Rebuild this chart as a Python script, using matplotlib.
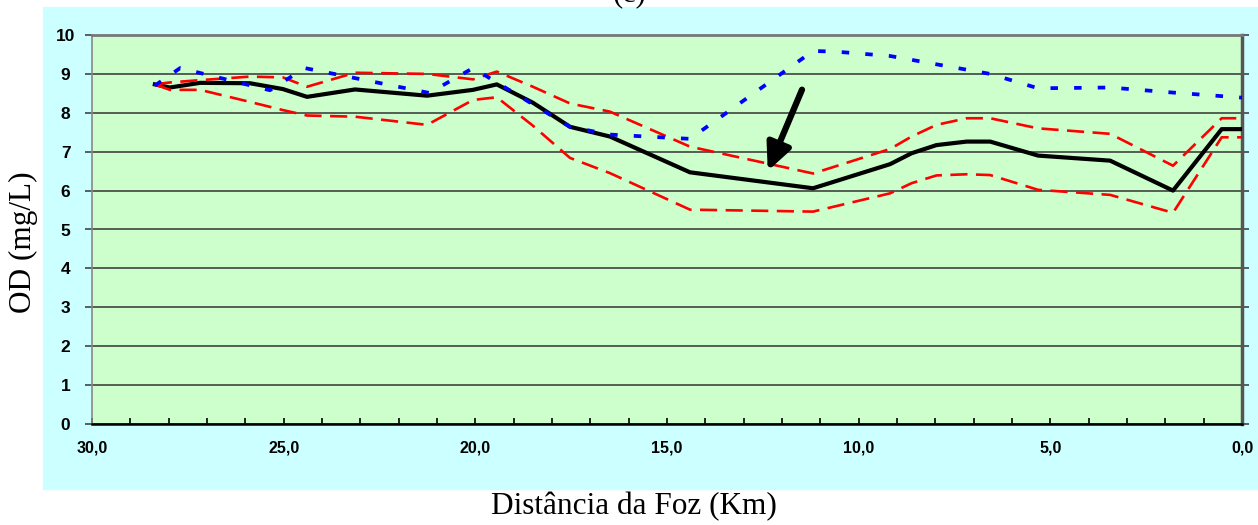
# OD ao longo do rio - distancia da foz
import matplotlib.pyplot as plt
from matplotlib.patches import Rectangle
from matplotlib.ticker import MultipleLocator, FuncFormatter

# Distancias (km) dos pontos simulados
dist = [28.36, 27.97, 27.18, 25.88, 25.02, 24.39, 23.14, 21.26, 20.06, 19.44,
        18.50, 17.53, 16.49, 14.40, 11.19, 9.18, 8.62, 7.97, 7.18, 6.57,
        5.32, 3.44, 1.80, 0.53, 0.0]
# OD medio (linha preta)
od_medio = [8.73, 8.65, 8.77, 8.76, 8.61, 8.41, 8.60, 8.44, 8.59, 8.73,
            8.26, 7.64, 7.39, 6.47, 6.06, 6.68, 6.96, 7.17, 7.26, 7.26,
            6.90, 6.77, 6.00, 7.58, 7.58]
# Limites (vermelho tracejado)
od_sup = [8.73, 8.78, 8.84, 8.93, 8.91, 8.67, 9.03, 9.00, 8.86, 9.06,
          8.67, 8.24, 8.03, 7.13, 6.44, 7.07, 7.39, 7.69, 7.86, 7.86,
          7.60, 7.46, 6.64, 7.86, 7.86]
od_inf = [8.73, 8.59, 8.59, 8.28, 8.07, 7.93, 7.90, 7.69, 8.33, 8.40,
          7.67, 6.84, 6.45, 5.51, 5.46, 5.93, 6.19, 6.39, 6.42, 6.40,
          6.02, 5.89, 5.43, 7.37, 7.37]
# Serie azul pontilhada
dist_az = [28.36, 27.70, 25.36, 24.45, 21.20, 20.06, 17.53, 16.49, 14.40,
           11.19, 10.57, 9.18, 6.57, 5.32, 3.44, 1.80, 0.0]
od_az = [8.70, 9.15, 8.58, 9.15, 8.51, 9.15, 7.64, 7.44, 7.33,
         9.59, 9.57, 9.46, 9.00, 8.63, 8.65, 8.52, 8.39]

plt.rcParams['font.family'] = 'Liberation Sans'
plt.rcParams['font.weight'] = 'bold'

fig = plt.figure(figsize=(12.58, 5.25), dpi=100)
fig.patches.append(Rectangle((43 / 1258, 36 / 525), 1.0, 482 / 525,
                             transform=fig.transFigure, color='#CCFFFF', zorder=-5))
ax = fig.add_axes([92 / 1258, 101 / 525, 1150 / 1258, 389 / 525])
ax.set_zorder(2)
ax.set_facecolor('#CCFFCC')

ax.plot(dist, od_medio, color='black', lw=3.0, zorder=3)
ax.plot(dist, od_sup, color='red', lw=1.9, dashes=(6.5, 3.2), zorder=4)
ax.plot(dist, od_inf, color='red', lw=1.9, dashes=(6.5, 3.2), zorder=4)
ax.plot(dist_az, od_az, color='blue', lw=2.7, dashes=(2, 4.3), zorder=5)

ax.annotate('', xy=(12.40, 6.44), xytext=(11.45, 8.66),
            arrowprops=dict(arrowstyle='-|>,head_length=1.6,head_width=0.75',
                            color='black', lw=4.5), zorder=6)

ax.set_xlim(30, 0)
ax.set_ylim(0, 10)
ax.set_yticks(range(0, 11))
ax.xaxis.set_major_locator(MultipleLocator(5))
ax.xaxis.set_minor_locator(MultipleLocator(1))
ax.xaxis.set_major_formatter(FuncFormatter(lambda v, p: f'{v:.1f}'.replace('.', ',')))
ax.grid(axis='y', color='#333333', lw=1.1)
ax.set_axisbelow(True)

ax.tick_params(axis='x', which='both', direction='in', length=4, width=1.2,
               pad=12, labelsize=11.5)
ax.tick_params(axis='y', length=0, pad=14, labelsize=12.5)
ax.tick_params(axis='y', which='both', right=True, direction='out', length=5,
               width=1.2, color='#444444')
for lab in ax.get_yticklabels():
    lab.set_horizontalalignment('center')

ax.spines['left'].set_color('#888888')
ax.spines['left'].set_linewidth(1.2)
ax.spines['top'].set_color('#777777')
ax.spines['top'].set_linewidth(2)
ax.spines['right'].set_color('#555555')
ax.spines['right'].set_linewidth(2.5)
ax.spines['bottom'].set_color('black')
ax.spines['bottom'].set_linewidth(1.8)

fig.text(634 / 1258, 1 - 507 / 525, 'Distância da Foz (Km)', family='Liberation Serif',
         fontsize=22.5, weight='normal', ha='center', va='center')
fig.text(23 / 1258, 1 - 242 / 525, 'OD (mg/L)', family='Liberation Serif',
         fontsize=22.5, weight='normal', ha='center', va='center', rotation=90)
fig.text(630 / 1258, 1 - 1 / 525, '(c)', family='Liberation Serif',
         fontsize=22, weight='normal', ha='center', va='baseline')

fig.savefig('out.png', dpi=100)
